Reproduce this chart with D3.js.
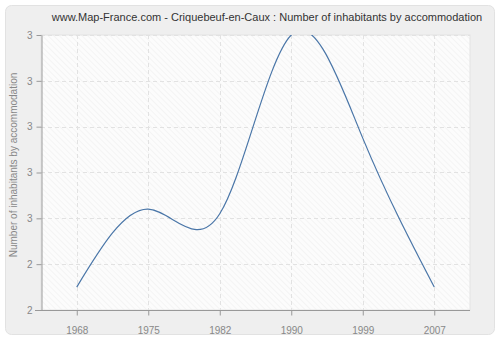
<!DOCTYPE html>
<html>
<head>
<meta charset="utf-8">
<script src="https://cdn.jsdelivr.net/npm/d3@7"></script>
<style>
  body { margin: 0; background: #fff; }
  svg { display: block; font-family: "Liberation Sans", Arial, sans-serif; }
</style>
</head>
<body>
<svg width="500" height="340"></svg>
<script>
const years = ["1968", "1975", "1982", "1990", "1999", "2007"];
const values = [2.45, 2.62, 2.61, 3.0, 2.775, 2.45];
const yTicks = [2.4, 2.5, 2.6, 2.7, 2.8, 2.9, 3.0];
const yTickLabels = ["2", "2", "3", "3", "3", "3", "3"];

const svg = d3.select("svg");
const margin = { top: 35, right: 30, bottom: 30, left: 41 };
const width = 500 - margin.left - margin.right;
const height = 340 - margin.top - margin.bottom;

// outer panel
svg.append("rect")
    .attr("x", 5.5).attr("y", 5.5)
    .attr("width", 489).attr("height", 329)
    .attr("rx", 6)
    .attr("fill", "#efefef")
    .attr("stroke", "#e2e2e2");

svg.append("text")
    .attr("x", 267).attr("y", 21)
    .attr("text-anchor", "middle")
    .attr("font-size", 11)
    .attr("fill", "#333")
    .text("www.Map-France.com - Criquebeuf-en-Caux : Number of inhabitants by accommodation");

// hatch pattern
const defs = svg.append("defs");
const pat = defs.append("pattern")
    .attr("id", "hatch")
    .attr("patternUnits", "userSpaceOnUse")
    .attr("width", 4).attr("height", 4)
    .attr("patternTransform", "rotate(-45)");
pat.append("rect").attr("width", 4).attr("height", 4).attr("fill", "#fcfcfc");
pat.append("line").attr("x1", 0).attr("y1", 0).attr("x2", 0).attr("y2", 4)
    .attr("stroke", "#ececec").attr("stroke-width", 1);

defs.append("clipPath").attr("id", "clip")
    .append("rect").attr("width", width).attr("height", height);

const g = svg.append("g")
    .attr("transform", `translate(${margin.left},${margin.top})`);

g.append("rect")
    .attr("width", width).attr("height", height)
    .attr("fill", "url(#hatch)")
    .attr("stroke", "#e4e4e4");

const x = d3.scalePoint()
    .domain(years)
    .range([0, width])
    .padding(0.5);

const y = d3.scaleLinear()
    .domain([2.4, 3.0])
    .range([height, 0]);

// grid
g.append("g")
    .selectAll("line.h")
    .data(yTicks.slice(1))
    .enter().append("line")
    .attr("x1", 0).attr("x2", width)
    .attr("y1", d => Math.round(y(d)) + 0.5).attr("y2", d => Math.round(y(d)) + 0.5)
    .attr("stroke", "#e2e2e2")
    .attr("stroke-dasharray", "4,3");

g.append("g")
    .selectAll("line.v")
    .data(years)
    .enter().append("line")
    .attr("x1", d => Math.round(x(d)) + 0.5).attr("x2", d => Math.round(x(d)) + 0.5)
    .attr("y1", 0).attr("y2", height)
    .attr("stroke", "#e2e2e2")
    .attr("stroke-dasharray", "4,3");

// axes
const xAxis = g.append("g")
    .attr("transform", `translate(0,${height + 0.5})`)
    .call(d3.axisBottom(x).tickSize(5).tickSizeOuter(0));
xAxis.select(".domain").attr("d", `M-6,0H${width}`);

const yAxis = g.append("g")
    .attr("transform", "translate(0.5,0)")
    .call(d3.axisLeft(y).tickValues(yTicks)
        .tickFormat((d, i) => yTickLabels[i]).tickSize(5).tickSizeOuter(0));

[xAxis, yAxis].forEach(a => {
    a.select(".domain").attr("stroke", "#999");
    a.selectAll(".tick line").attr("stroke", "#999");
    a.selectAll(".tick text")
        .attr("fill", "#888")
        .attr("font-size", 10)
        .attr("font-family", "Liberation Sans, Arial, sans-serif");
});
xAxis.selectAll(".tick text").attr("dy", "1.5em");
yAxis.selectAll(".tick text").attr("x", -9);

svg.append("text")
    .attr("transform", "translate(17,165) rotate(-90)")
    .attr("text-anchor", "middle")
    .attr("font-size", 10)
    .attr("fill", "#888")
    .text("Number of inhabitants by accommodation");

// line
const line = d3.line()
    .x((d, i) => x(years[i]))
    .y(d => y(d))
    .curve(d3.curveNatural);

g.append("path")
    .datum(values)
    .attr("clip-path", "url(#clip)")
    .attr("fill", "none")
    .attr("stroke", "#4a76a8")
    .attr("stroke-width", 1.2)
    .attr("d", line);
</script>
</body>
</html>
